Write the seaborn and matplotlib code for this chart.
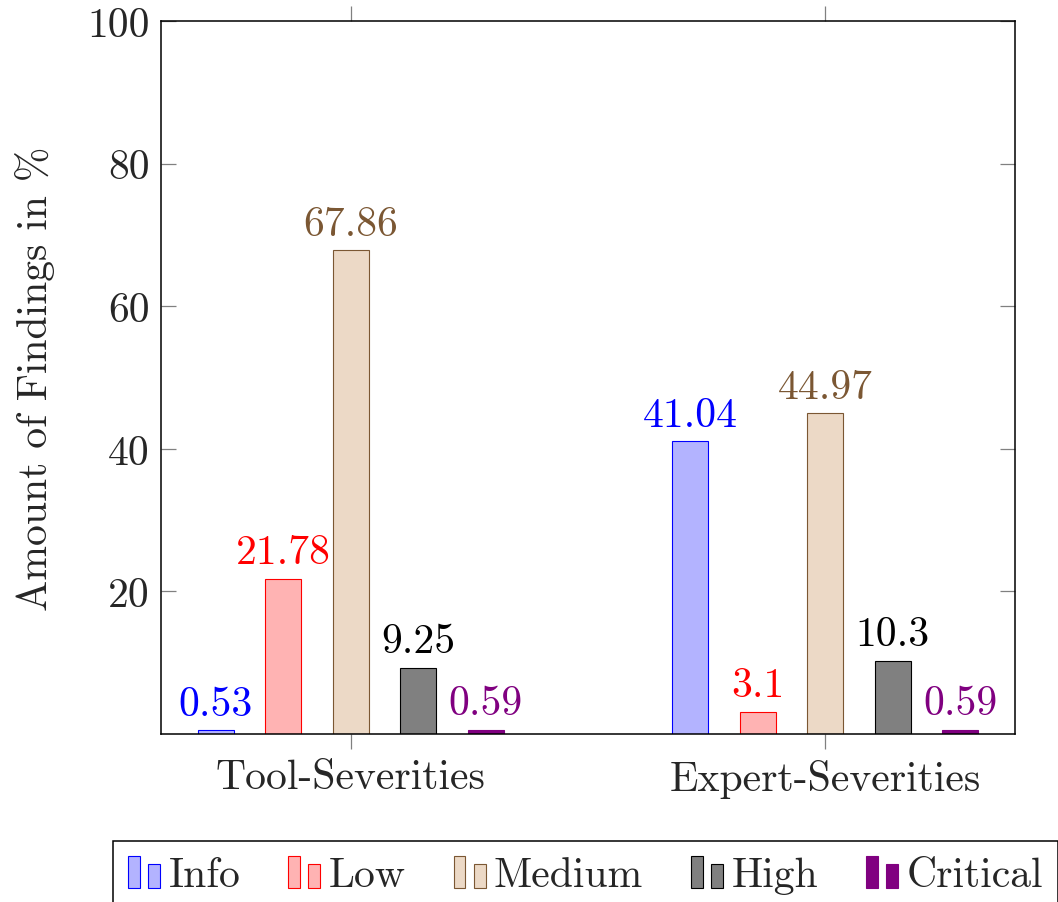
import matplotlib
matplotlib.use("Agg")
import matplotlib.pyplot as plt
from matplotlib.legend_handler import HandlerBase
from matplotlib.patches import Rectangle
import numpy as np
import pandas as pd
import seaborn as sns

# --- data -------------------------------------------------------------
groups = ["Tool-Severities", "Expert-Severities"]
severities = ["Info", "Low", "Medium", "High", "Critical"]
tool_values = [0.53, 21.78, 67.86, 9.25, 0.59]
expert_values = [41.04, 3.1, 44.97, 10.3, 0.59]
y_ticks = [20, 40, 60, 80, 100]

# --- styling ----------------------------------------------------------
fill_colors = ["#B3B3FF", "#FFB3B3", "#ECD9C6", "#808080", "#800080"]
edge_colors = ["#0000FF", "#FF0000", "#7B5733", "#000000", "#800080"]
label_colors = ["#0000FF", "#FF0000", "#7B5733", "#000000", "#800080"]

sns.set_style("white")
plt.rcParams["font.family"] = ["cmr10", "DejaVu Serif"]
plt.rcParams["mathtext.fontset"] = "cm"
plt.rcParams["axes.formatter.use_mathtext"] = True
FS = 30

df = pd.DataFrame({
    "Group": np.repeat(groups, len(severities)),
    "Severity": severities * len(groups),
    "Share": tool_values + expert_values,
})

W, H = 1058, 903
fig = plt.figure(figsize=(W / 100, H / 100), dpi=100)
ax = fig.add_axes([161 / W, 1 - 735 / H, 854 / W, 713 / H])

sns.barplot(
    data=df, x="Group", y="Share", hue="Severity", hue_order=severities,
    order=groups, palette=dict(zip(severities, fill_colors)), saturation=1,
    width=0.712, gap=0.466, legend=False, ax=ax, errorbar=None,
)

for cont, ec, lc in zip(ax.containers, edge_colors, label_colors):
    for bar in cont:
        bar.set_edgecolor(ec)
        bar.set_linewidth(0.8)
    ax.bar_label(cont, fmt="{:g}", padding=5.5, color=lc, fontsize=FS)

ax.set_xlim(-0.4, 1.4)
ax.set_ylim(0, 100)
ax.set_yticks(y_ticks)
ax.set_yticklabels([str(t) for t in y_ticks])
ax.set_xlabel("")
ax.set_ylabel("Amount of Findings in %", fontsize=FS, labelpad=23)

ax.tick_params(axis="y", which="both", left=True, right=True, direction="in",
               length=11, width=0.9, color="#808080", labelsize=FS, pad=8)
ax.tick_params(axis="x", which="both", bottom=True, top=True, direction="out",
               length=11, width=0.9, color="#808080", labelsize=FS, pad=7)
for sp in ax.spines.values():
    sp.set_visible(True)
    sp.set_color("black")
    sp.set_linewidth(1.1)


class TwoBarHandler(HandlerBase):
    """Legend key drawn as a tall and a short bar, side by side."""

    def create_artists(self, legend, orig_handle, xdescent, ydescent,
                       width, height, fontsize, trans):
        fc = orig_handle.get_facecolor()
        ec = orig_handle.get_edgecolor()
        bw = width * 0.37
        r1 = Rectangle((-xdescent, -ydescent), bw, height,
                       facecolor=fc, edgecolor=ec, linewidth=0.8, transform=trans)
        r2 = Rectangle((-xdescent + width - bw, -ydescent), bw, height * 0.76,
                       facecolor=fc, edgecolor=ec, linewidth=0.8, transform=trans)
        return [r1, r2]


handles = [Rectangle((0, 0), 1, 1, facecolor=f, edgecolor=e)
           for f, e in zip(fill_colors, edge_colors)]
leg = fig.legend(
    handles, severities, loc="upper left",
    bbox_to_anchor=(113 / W, 1 - 842 / H), ncol=5, fontsize=FS,
    frameon=True, fancybox=False, edgecolor="black", framealpha=1,
    borderaxespad=0, borderpad=0.36, handlelength=0.77, handleheight=0.79,
    handletextpad=0.2, columnspacing=1.15,
    handler_map={Rectangle: TwoBarHandler()},
)
leg.get_frame().set_linewidth(1.1)

fig.savefig("out.png", dpi=100)
